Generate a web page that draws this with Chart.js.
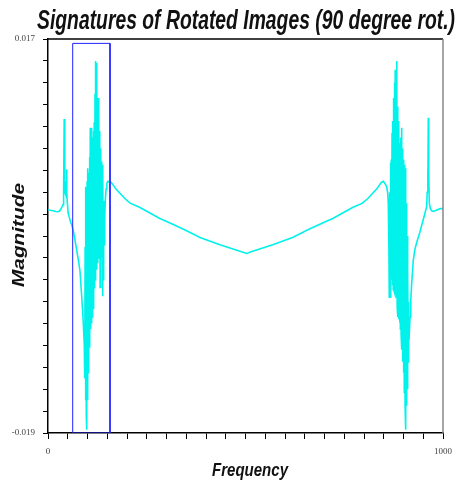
<!DOCTYPE html>
<html>
<head>
<meta charset="utf-8">
<script src="https://cdn.jsdelivr.net/npm/chart.js@4"></script>
<style>
  html, body { margin: 0; padding: 0; background: #fff; }
</style>
</head>
<body>
<canvas id="sig" width="463" height="485"></canvas>
<script>
// signature of the 90 degree rotated image

// left edge, first spike cluster and the rise to the left bump
const leftFreq = [0, 6, 12.7, 20, 25, 30, 33, 36, 38, 39.5, 41, 42, 43, 44.5, 46, 47, 48, 49, 51, 54, 57, 60,
  64, 68, 72.7, 77, 81, 85.3, 87.5, 89.4, 91.9, 93, 94, 95, 96, 97,
  98, 99, 100, 101, 102, 103, 104, 105, 106, 107, 108, 109, 110, 111, 112, 113, 114, 115, 116, 117, 118, 119,
  120, 121, 122, 123, 124, 125, 126, 127, 128, 129, 130, 131, 132, 133, 134, 135, 136, 137, 138, 139, 140, 141,
  142, 143.5, 145, 147, 149, 152];
const leftMag = [0.0014, 0.00135, 0.0013, 0.00124, 0.00122, 0.0013, 0.0015, 0.0017, 0.00186, 0.0030, 0.0097, 0.0060,
  0.0030, 0.0028, 0.0040, 0.0051, 0.0030, 0.0020, 0.0011, 0.0007, 0.0003, 0.0000,
  -0.0005, -0.0013, -0.0023, -0.0032, -0.0042, -0.0065, -0.0078, -0.0090, -0.0110, -0.0140, -0.0020, -0.0160, 0.0035, -0.0175,
  -0.0187, 0.0040, -0.0160, 0.0052, -0.0135, 0.0048, -0.0108, 0.0062, -0.0112, 0.0089, -0.0095, 0.0072, -0.0090, 0.0089,
  -0.0084, 0.0080, -0.0076, 0.0086, -0.0070, 0.0094, -0.0058, 0.0120,
  -0.0051, 0.0150, -0.0040, 0.0148, -0.0030, 0.0104, -0.0035, 0.0116, -0.0025, 0.0104, -0.0030, 0.0086, -0.0057, 0.0070,
  -0.0020, 0.0058, -0.0030, 0.0040, -0.0065, 0.0055, -0.0050, 0.0022,
  -0.0018, 0.0005, 0.0022, 0.0033, 0.0038, 0.0040];

// smooth valley between the two bumps
const midFreq = [154, 160, 166, 172, 182, 195, 208, 233, 258, 283, 299, 342, 385, 435, 486, 503,
  518, 569, 619, 662, 705, 721, 746, 771, 796, 809, 822, 832, 838, 844, 849];
const midMag = [0.0040, 0.0039, 0.0036, 0.0033, 0.0029, 0.0024, 0.0020, 0.0016, 0.0011, 0.0006, 0.00035, -0.00036,
  -0.00113, -0.0018, -0.0024, -0.0026,
  -0.0024, -0.0018, -0.00113, -0.00036, 0.00035, 0.0006, 0.0011, 0.0016, 0.0020, 0.0024, 0.0029, 0.0033, 0.0036,
  0.0039, 0.0040];

// right bump, second spike cluster and right edge
const rightFreq = [853, 857.5, 860, 861.5, 863,
  864, 865, 866, 867, 868, 869, 870, 871, 872, 873, 874, 875, 876, 877, 878, 879, 880, 881, 882, 883, 884, 885,
  886, 887, 888, 889, 890, 891, 892, 893, 894, 895, 896, 897, 898, 899, 900, 901, 902, 903, 904, 905, 906, 907,
  908, 909, 910, 911, 912, 913, 914,
  916.5, 918.5, 920.8, 924.8, 929, 933.4, 941.8, 950.1, 954.4, 958.7, 960, 961.3, 962, 962.8, 963.8, 965.3, 968,
  971.4, 976, 979.7, 986, 992.4, 1000];
const rightMag = [0.0038, 0.0035, 0.0029, 0.0020, -0.0020,
  -0.0066, 0.0030, -0.0066, 0.0057, -0.0055, 0.0060, -0.0050, 0.0084, -0.0055, 0.0095, -0.0059, 0.0116, -0.0060,
  0.0130, -0.0062, 0.0142, -0.0064, 0.0135, -0.0066, 0.0150, -0.0075, 0.0108,
  -0.0084, 0.0095, -0.0086, 0.0063, -0.0089, 0.0075, -0.0095, 0.0080, -0.0100, 0.0089, -0.0114, 0.0070, -0.0125,
  0.0060, -0.0135, 0.0045, -0.0153, 0.0055, -0.0165, 0.0052, -0.0187, 0.0020,
  -0.0165, -0.0010, -0.0150, -0.0040, -0.0125, -0.0070, -0.0105,
  -0.0084, -0.0068, -0.0053, -0.0032, -0.0022, -0.0016, -0.0006, 0.0005, 0.0011, 0.0017, 0.0030, 0.0051, 0.0035,
  0.0098, 0.0050, 0.0020, 0.0015,
  0.0013, 0.00125, 0.0013, 0.0014, 0.0015, 0.0015];

// blue selection box around the first cluster
const boxFreq = [62.5, 62.5, 157, 157, 62.5];
const boxMag = [-0.019, 0.0166, 0.0166, -0.019, -0.019];

const freqRange = [0, 1000];
const magRange = [-0.019, 0.017];

const TITLE = "Signatures of Rotated Images (90 degree rot.)";
const X_TITLE = "Frequency";
const Y_TITLE = "Magnitude";

const toPoints = (xs, ys) => xs.map((x, i) => ({ x, y: ys[i] }));
const signal = [
  ...toPoints(leftFreq, leftMag),
  ...toPoints(midFreq, midMag),
  ...toPoints(rightFreq, rightMag),
];

// bold italic text squeezed/stretched to the width it has in the reference
function drawFitted(ctx, text, x, y, width, font, angle) {
  ctx.save();
  ctx.translate(x, y);
  ctx.rotate(angle);
  ctx.font = font;
  const w = ctx.measureText(text).width;
  ctx.scale(width / w, 1);
  ctx.textAlign = "center";
  ctx.textBaseline = "alphabetic";
  ctx.fillStyle = "#111";
  ctx.fillText(text, 0, 0);
  ctx.restore();
}

const labels = {
  id: "labels",
  afterDraw(chart) {
    const ctx = chart.ctx;
    drawFitted(ctx, TITLE, 246, 29, 418, 'bold italic 27px "Liberation Sans"', 0);
    drawFitted(ctx, X_TITLE, 250, 476, 76, 'bold italic 18px "Liberation Sans"', 0);
    drawFitted(ctx, Y_TITLE, 24, 235, 104, 'bold italic 16px "Liberation Sans"', -Math.PI / 2);
  },
};

// top border black, right border grey
const frame = {
  id: "frame",
  afterDatasetsDraw(chart) {
    const { ctx, chartArea: a } = chart;
    ctx.save();
    ctx.lineWidth = 1.5;
    ctx.strokeStyle = "#000";
    ctx.beginPath();
    ctx.moveTo(a.left, a.top);
    ctx.lineTo(a.right, a.top);
    ctx.stroke();
    ctx.strokeStyle = "#888";
    ctx.beginPath();
    ctx.moveTo(a.right, a.top);
    ctx.lineTo(a.right, a.bottom);
    ctx.stroke();
    ctx.restore();
  },
};

const tickFont = { family: '"Liberation Serif", "Times New Roman", serif', size: 9 };

new Chart(document.getElementById("sig"), {
  type: "scatter",
  data: {
    datasets: [
      {
        data: toPoints(boxFreq, boxMag),
        showLine: true,
        borderColor: "#2020ff",
        borderWidth: 1,
        pointRadius: 0,
        order: 0,
      },
      {
        data: signal,
        showLine: true,
        borderColor: "#00f2ea",
        borderWidth: 1.6,
        pointRadius: 0,
        tension: 0,
        order: 1,
      },
    ],
  },
  options: {
    responsive: false,
    animation: false,
    layout: { padding: { top: 39, right: 20, left: 0, bottom: 0 } },
    plugins: {
      legend: { display: false },
      tooltip: { enabled: false },
    },
    scales: {
      x: {
        type: "linear",
        min: freqRange[0],
        max: freqRange[1],
        afterFit: (s) => { s.height = 52; },
        ticks: {
          stepSize: 50,
          autoSkip: false,
          maxRotation: 0,
          padding: 7,
          color: "#444",
          font: tickFont,
          callback: (v) => (v === freqRange[0] || v === freqRange[1] ? String(v) : ""),
        },
        grid: { drawOnChartArea: false, tickLength: 6, color: "#000", lineWidth: 1 },
        border: { color: "#000", width: 1.5 },
      },
      y: {
        type: "linear",
        min: magRange[0],
        max: magRange[1],
        afterFit: (s) => { s.width = 48; },
        ticks: {
          stepSize: 0.002,
          autoSkip: false,
          padding: 8,
          color: "#444",
          font: tickFont,
          callback: (v, i, ticks) => (i === 0 || i === ticks.length - 1 ? v.toFixed(3) : ""),
        },
        grid: { drawOnChartArea: false, tickLength: 5, color: "#000", lineWidth: 1 },
        border: { color: "#000", width: 1.5 },
      },
    },
  },
  plugins: [frame, labels],
});
</script>
</body>
</html>
